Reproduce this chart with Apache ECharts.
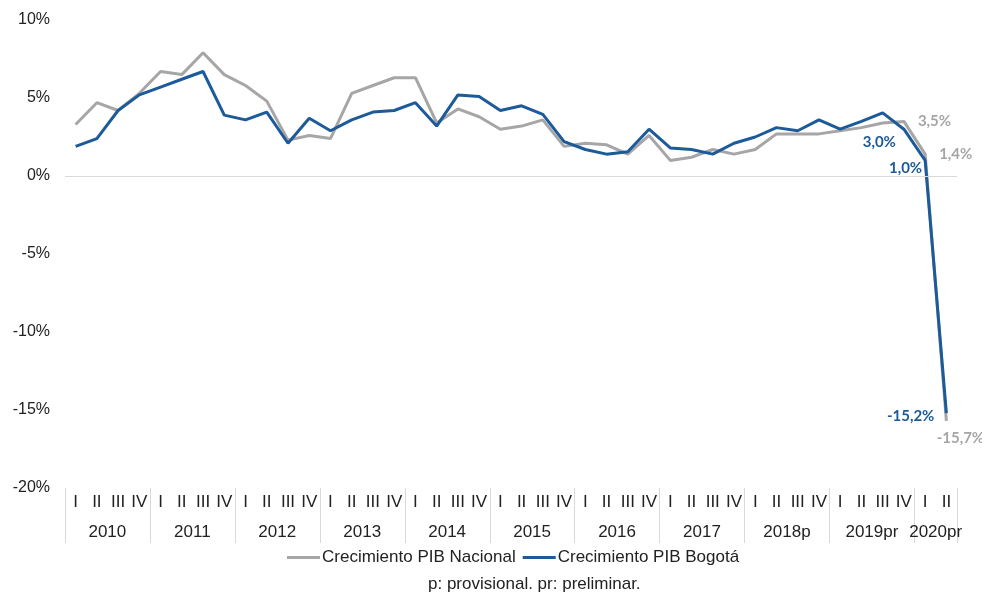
<!DOCTYPE html>
<html>
<head>
<meta charset="utf-8">
<script src="https://cdn.jsdelivr.net/npm/echarts@6/dist/echarts.min.js"></script>
<style>html,body{margin:0;padding:0;background:#fff}#c{width:982px;height:595px}</style>
</head>
<body>
<div id="c"></div>
<script>
const years = ['2010','2011','2012','2013','2014','2015','2016','2017','2018p','2019pr','2020pr'];
const quartersPerYear = [4,4,4,4,4,4,4,4,4,4,2];
const quarterNames = ['I','II','III','IV'];
const yTicks = [-20,-15,-10,-5,0,5,10];
const nacional = [3.3,4.7,4.2,5.3, 6.7,6.5,7.9,6.5, 5.8,4.8,2.3,2.6, 2.4,5.3,5.8,6.3, 6.3,3.4,4.3,3.8, 3.0,3.2,3.6,1.9, 2.1,2.0,1.4,2.6, 1.0,1.2,1.7,1.4, 1.7,2.7,2.7,2.7, 2.9,3.1,3.4,3.5, 1.4,-15.7];
const bogota = [1.9,2.4,4.2,5.2, 5.7,6.2,6.7,3.9, 3.6,4.1,2.1,3.7, 2.9,3.6,4.1,4.2, 4.7,3.2,5.2,5.1, 4.2,4.5,3.95,2.2, 1.7,1.4,1.55,3.0, 1.8,1.7,1.4,2.1, 2.5,3.1,2.9,3.6, 3.0,3.5,4.05,3.0, 1.0,-15.2];
const labelledIdx = [39,40,41];

const quarterCats = [];
const yearCats = [];
const yearLabelIdx = {};
years.forEach((y, k) => {
  const n = quartersPerYear[k];
  const start = quarterCats.length;
  for (let q = 0; q < n; q++) { quarterCats.push(quarterNames[q]); yearCats.push(y); }
  yearLabelIdx[start + n / 2 - 1] = true;
});

const GRAY = '#a6a6a6', BLUE = '#1c5a9a';
const FONT = 'Liberation Sans, Arial, sans-serif';
const fmt = v => v.toFixed(1).replace('.', ',') + '%';
const grayLabelStyle = {
  39: {position: 'right', distance: 14},
  40: {position: 'right', distance: 14},
  41: {position: 'bottom', distance: 10, offset: [14, 0]}
};
const blueLabelStyle = {
  39: {position: 'left', distance: 8, offset: [0, 13]},
  40: {position: 'left', distance: 3, offset: [0, 8]},
  41: {position: 'left', distance: 12, offset: [0, 3]}
};
function build(arr, styles, color) {
  return arr.map((v, i) => labelledIdx.includes(i) ? {
    value: v,
    label: Object.assign({show: true, formatter: p => fmt(p.value), color: color,
      fontFamily: 'Lato', fontWeight: 'bold', fontSize: 15}, styles[i])
  } : v);
}

const chart = echarts.init(document.getElementById('c'));
chart.setOption({
  animation: false,
  textStyle: {fontFamily: FONT},
  grid: {left: 65, right: 25, top: 20, bottom: 107},
  legend: {
    left: 287, top: 549, padding: 0, itemGap: 7, itemWidth: 33, itemHeight: 3, icon: 'rect',
    textStyle: {fontSize: 17, color: '#222', padding: [0, 0, 0, -3]},
    data: ['Crecimiento PIB Nacional', 'Crecimiento PIB Bogotá']
  },
  graphic: [{
    type: 'text', left: 428, top: 576,
    style: {text: 'p: provisional. pr: preliminar.', fontSize: 17, fill: '#222', fontFamily: FONT}
  }],
  xAxis: [{
    type: 'category', data: quarterCats, position: 'bottom',
    axisLine: {show: false}, axisTick: {show: false},
    axisLabel: {interval: 0, fontSize: 17, color: '#222', margin: 6}
  }, {
    type: 'category', data: yearCats, position: 'bottom',
    axisLine: {show: false},
    axisTick: {show: true, length: 55, interval: i => i % 4 === 0, lineStyle: {color: '#d9d9d9'}},
    axisLabel: {interval: i => !!yearLabelIdx[i], fontSize: 17, color: '#222', margin: 36, padding: [0, 0, 0, 21]}
  }],
  yAxis: {
    type: 'value', min: yTicks[0], max: yTicks[yTicks.length - 1], interval: 5,
    axisLine: {show: false}, axisTick: {show: false}, splitLine: {show: false},
    axisLabel: {formatter: '{value}%', fontSize: 16, color: '#222', margin: 15}
  },
  series: [{
    name: 'Crecimiento PIB Nacional', type: 'line', xAxisIndex: 0,
    data: build(nacional, grayLabelStyle, GRAY),
    symbol: 'circle', symbolSize: 0, showSymbol: true,
    lineStyle: {color: GRAY, width: 3}, itemStyle: {color: GRAY},
    markLine: {silent: true, symbol: 'none', label: {show: false},
      lineStyle: {color: '#d9d9d9', width: 1, type: 'solid'}, data: [{yAxis: 0}]}
  }, {
    name: 'Crecimiento PIB Bogotá', type: 'line', xAxisIndex: 0,
    data: build(bogota, blueLabelStyle, BLUE),
    symbol: 'circle', symbolSize: 0, showSymbol: true,
    lineStyle: {color: BLUE, width: 3}, itemStyle: {color: BLUE}
  }]
});
</script>
</body>
</html>
